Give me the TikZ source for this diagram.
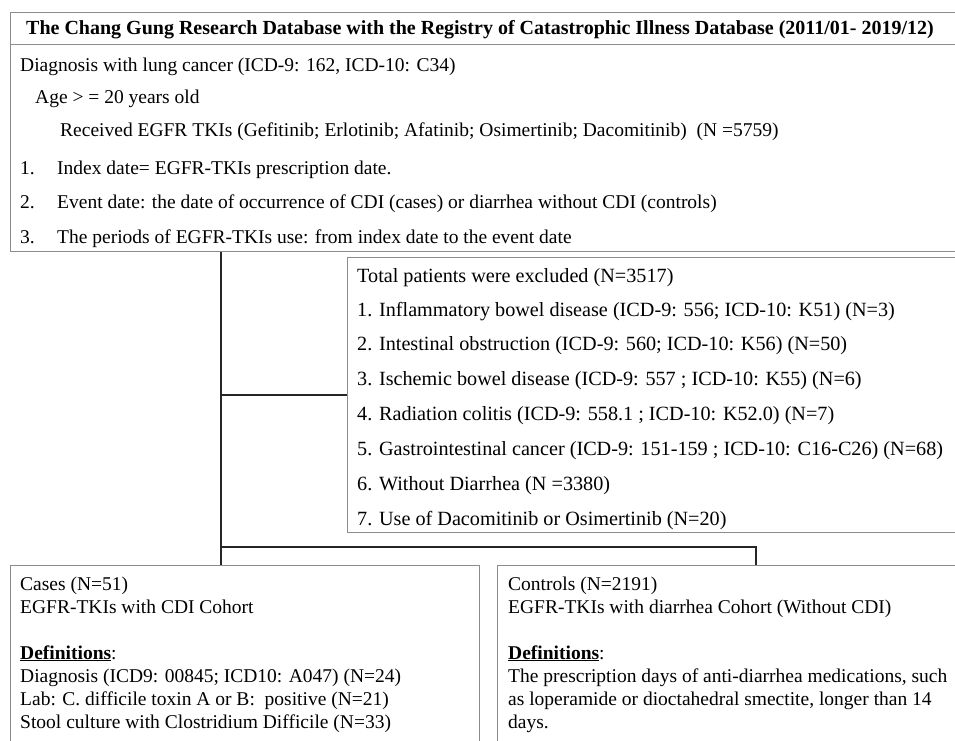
\documentclass[tikz,border=0pt]{standalone}
\usepackage{fontspec}
\setmainfont{Liberation Serif}
\begin{document}
\begin{tikzpicture}[x=1pt,y=-1pt,
  box/.style={draw=black!45,line width=0.9pt,anchor=north west,inner sep=0pt},
  txt/.style={anchor=base west,inner sep=0pt,font=\fontsize{19.5}{23}\selectfont},
  etxt/.style={anchor=base west,inner sep=0pt,font=\fontsize{20.2}{23}\selectfont},
  conn/.style={draw=black!85,line width=1.3pt}]
\useasboundingbox (0,0) rectangle (955,740);
% boxes
\node[box,minimum width=960pt,minimum height=239pt] (top) at (10,12) {};
\node[box,minimum width=620pt,minimum height=275pt] (excl) at (347,257) {};
\node[box,minimum width=469pt,minimum height=190pt] (cases) at (10,565) {};
\node[box,minimum width=470pt,minimum height=190pt] (ctrl) at (497,565) {};
\coordinate (sepL) at (10,44);
\coordinate (sepR) at (970,44);
\draw[draw=black!45,line width=0.9pt] (sepL) -- (sepR);
% top box text
\node[anchor=base,inner sep=0pt,font=\fontsize{20}{23}\selectfont\bfseries] (title) at (480,34) {The Chang Gung Research Database with the Registry of Catastrophic Illness Database (2011/01- 2019/12)};
\node[txt] (t1) at (20,71) {Diagnosis with lung cancer (ICD-9: 162, ICD-10: C34)};
\node[txt] (t2) at (35,103) {Age > = 20 years old};
\node[txt] (t3) at (60,136) {Received EGFR TKIs (Gefitinib; Erlotinib; Afatinib; Osimertinib; Dacomitinib)\ \ (N =5759)};
\node[txt] (n1) at (20,174) {1.};
\node[txt] (t4) at (57,174) {Index date= EGFR-TKIs prescription date.};
\node[txt] (n2) at (20,208) {2.};
\node[txt] (t5) at (57,208) {Event date: the date of occurrence of CDI (cases) or diarrhea without CDI (controls)};
\node[txt] (n3) at (20,243) {3.};
\node[txt] (t6) at (57,243) {The periods of EGFR-TKIs use: from index date to the event date};
% exclusion text
\node[etxt] (e0) at (357,282) {Total patients were excluded (N=3517)};
\node[etxt] (e1) at (357,316) {1. Inflammatory bowel disease (ICD-9: 556; ICD-10: K51) (N=3)};
\node[etxt] (e2) at (357,350) {2. Intestinal obstruction (ICD-9: 560; ICD-10: K56) (N=50)};
\node[etxt] (e3) at (357,385) {3. Ischemic bowel disease (ICD-9: 557 ; ICD-10: K55) (N=6)};
\node[etxt] (e4) at (357,420) {4. Radiation colitis (ICD-9: 558.1 ; ICD-10: K52.0) (N=7)};
\node[etxt] (e5) at (357,455) {5. Gastrointestinal cancer (ICD-9: 151-159 ; ICD-10: C16-C26) (N=68)};
\node[etxt] (e6) at (357,490) {6. Without Diarrhea (N =3380)};
\node[etxt] (e7) at (357,525) {7. Use of Dacomitinib or Osimertinib (N=20)};
% cases text
\node[txt] (c1) at (20,590) {Cases (N=51)};
\node[txt] (c2) at (20,613) {EGFR-TKIs with CDI Cohort};
\node[txt] (c3) at (20,659) {\underline{\textbf{Definitions}}:};
\node[txt] (c4) at (20,682) {Diagnosis (ICD9: 00845; ICD10: A047) (N=24)};
\node[txt] (c5) at (20,705) {Lab: C. difficile toxin A or B:\ \ positive (N=21)};
\node[txt] (c6) at (20,728) {Stool culture with Clostridium Difficile (N=33)};
% controls text
\node[txt] (d1) at (508,590) {Controls (N=2191)};
\node[txt] (d2) at (508,613) {EGFR-TKIs with diarrhea Cohort (Without CDI)};
\node[txt] (d3) at (508,659) {\underline{\textbf{Definitions}}:};
\node[txt] (d4) at (508,682) {The prescription days of anti-diarrhea medications, such};
\node[txt] (d5) at (508,705) {as loperamide or dioctahedral smectite, longer than 14};
\node[txt] (d6) at (508,728) {days.};
% connectors
\coordinate (j1) at (221,395);
\coordinate (j2) at (221,547);
\coordinate (j3) at (756,547);
\draw[conn] (top.south -| j1) -- (cases.north -| j1);
\draw[conn] (j1) -- (excl.west |- j1);
\draw[conn] (j2) -- (j3) -- (ctrl.north -| j3);
\end{tikzpicture}
\end{document}
